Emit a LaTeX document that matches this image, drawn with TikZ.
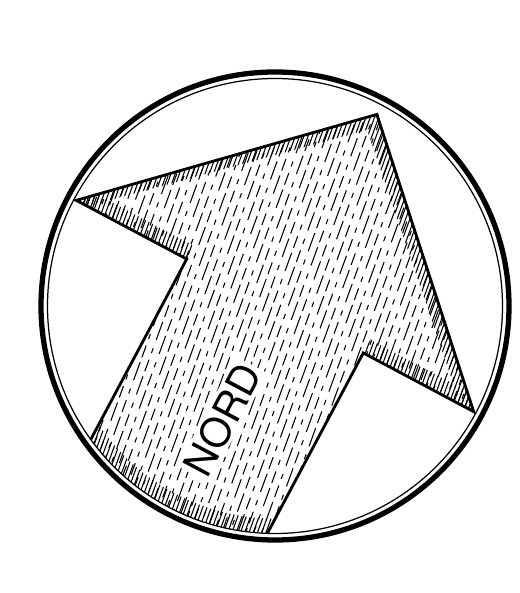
\documentclass[tikz,border=0pt]{standalone}
\usepackage{fontspec}
\setsansfont{TeX Gyre Heros}
\begin{document}
\begin{tikzpicture}[
  rim/.style={line width=3pt},
  innerrim/.style={line width=0.7pt},
  outline/.style={line width=1.6pt,line join=miter},
  hatch/.style={line width=0.6pt,dash pattern=on 7pt off 4pt on 3pt off 5pt on 11pt off 3pt},
  tick/.style={line width=0.6pt},
  label/.style={font=\sffamily\fontsize{23}{23}\selectfont,inner sep=1.5pt,fill=white}]
\useasboundingbox (0,0) rectangle (10.4,11.86);
\coordinate (c) at (5.5,5.74);
% rings
\draw[rim] (c) circle (4.68);
\draw[innerrim] (c) circle (4.55);
\begin{scope}[shift={(c)},rotate=-28]
  \coordinate (tip) at (0,4.34);
  \coordinate (lbarb) at (-4.5,0);
  \coordinate (rbarb) at (4.5,0);
  \coordinate (lsh) at (-2,0);
  \coordinate (rsh) at (2,0);
  \coordinate (lfoot) at (-2,-4.09);
  \coordinate (rfoot) at (2,-4.09);
  % hatching
  \begin{scope}
    \clip (lbarb) -- (tip) -- (rbarb) -- (rsh) -- (2,-5) -- (-2,-5) -- (lsh) -- cycle;
    \clip (0,0) circle (4.55);
    \foreach \x [count=\i, evaluate=\i as \ph using {mod(\i*7,29)}] in {-4.7,-4.55,...,4.7}
      \draw[hatch,rotate=8,dash phase=\ph pt] (\x,-5) -- (\x,5);
    % dense ticks along the edges
    \begin{scope}
      \clip (-4.6,-0.05) rectangle (-2,0.3) (2,-0.05) rectangle (4.6,0.3);
      \foreach \x in {-4.7,-4.62,...,4.7}
        \draw[tick,rotate=8] (\x,-1) -- (\x,1);
    \end{scope}
    \begin{scope}[even odd rule]
      \clip (0,0) circle (4.6) (0,0) circle (4.25);
      \foreach \x in {-4.7,-4.62,...,4.7}
        \draw[tick,rotate=8] (\x,-5) -- (\x,5);
    \end{scope}
    \begin{scope}
      \clip (lbarb) -- (tip) -- (0,4.0) -- (-4.3,-0.05) -- cycle;
      \foreach \x in {-4.7,-4.62,...,4.7}
        \draw[tick,rotate=8] (\x,-5) -- (\x,5);
    \end{scope}
    \begin{scope}
      \clip (rbarb) -- (tip) -- (0,3.95) -- (4.2,0) -- cycle;
      \foreach \x in {-4.7,-4.62,...,4.7}
        \draw[tick,rotate=8] (\x,-5) -- (\x,5);
    \end{scope}
  \end{scope}
  % outline
  \draw[outline] (lfoot) -- (lsh) -- (lbarb) -- (tip) -- (rbarb) -- (rsh) -- (rfoot);
  \node[label,rotate=62] (nord) at (0.14,-2.5) {NORD};
\end{scope}
\end{tikzpicture}
\end{document}
